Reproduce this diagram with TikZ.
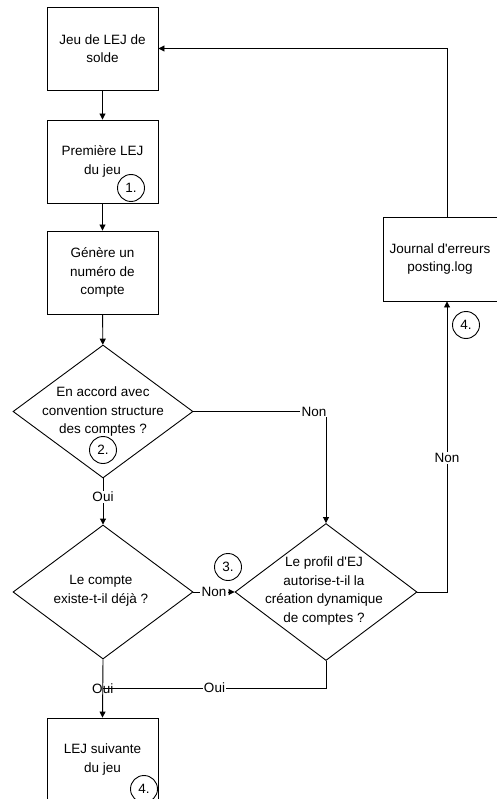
\documentclass[tikz,border=0pt]{standalone}
\usepackage{fontspec}
\setmainfont{Liberation Sans}
\usetikzlibrary{arrows.meta,shapes.geometric}

\tikzset{
  base/.style={line width=0.9pt},
  arr/.style={base,-{Triangle[length=6pt,width=6pt]}},
  procbox/.style={base,draw,rectangle,minimum width=111pt,minimum height=83pt,inner sep=0pt,align=center},
  decision/.style={base,draw,diamond,inner sep=0pt},
  txt/.style={align=center,inner sep=0pt},
  lbl/.style={fill=white,inner sep=1.2pt},
  bare/.style={inner sep=0pt},
  marker/.style={base,draw,circle,minimum size=27pt,inner sep=0pt}
}

\begin{document}
\begin{tikzpicture}[x=1pt,y=-1pt,font=\fontsize{13.5}{18.5}\selectfont]
\useasboundingbox (0,0) rectangle (497,799);

% process boxes on the left column
\node[procbox] (b1) at (102.5,48.5) {Jeu de LEJ de\\solde};
\node[procbox] (b2) at (102.5,161.5) {Première LEJ\\du jeu};
\node[procbox] (b3) at (102.5,272.5) {Génère un\\numéro de\\compte};
\node[procbox] (b4) at (102.5,759.5) {LEJ suivante\\du jeu};

% decisions
\node[decision,minimum width=180pt,minimum height=133pt] (d1) at (103,411.5) {};
\node[txt] (d1t) at (103,412) {En accord avec\\convention structure\\des comptes ?};
\node[decision,minimum width=180pt,minimum height=134pt] (d3) at (103,592) {};
\node[txt] (d3t) at (101,591) {Le compte\\existe-t-il déjà ?};
\node[decision,minimum width=182pt,minimum height=137pt] (d2) at (326,592) {};
\node[txt] (d2t) at (324,591) {Le profil d\textquotesingle EJ\\autorise-t-il la\\création dynamique\\de comptes ?};

% error log box, running past the right border
\node[base,draw,rectangle,minimum width=128pt,minimum height=84pt,inner sep=0pt] (jl) at (447,259) {};
\node[txt] (jlt) at (440,259) {Journal d\textquotesingle erreurs\\posting.log};

% numbered markers
\node[marker] (c1) at (131,188) {1.};
\node[marker] (c2) at (103,450) {2.};
\node[marker] (c3) at (228,567) {3.};
\node[marker] (c4a) at (466,325) {4.};
\node[marker] (c4b) at (144,789) {4.};

% main flow
\draw[arr] (b1) -- (b2);
\draw[arr] (b2) -- (b3);
\draw[arr] (b3) -- (d1);
\draw[arr] (d1.south) -- node[lbl,pos=0.4] {Oui} (d3.north);

% branches
\draw[arr] (d1.east) -| node[lbl,pos=0.5,anchor=east,xshift=2pt] {Non} (d2.north);
\draw[arr] (d3.east) -- node[lbl] {Non} (d2.west);
\draw[arr] (d2.east) -| node[lbl,pos=0.73] {Non} (jl.south);
\draw[arr] (jl.north) |- (b1.east);

% both "Oui" exits join above the next entry
\coordinate (j) at (103,688);
\draw[base] (d2.south) |- node[lbl,pos=0.75] {Oui} (j);
\draw[arr] (d3.south) -- node[bare,pos=0.5] {Oui} (b4.north);
\end{tikzpicture}
\end{document}
